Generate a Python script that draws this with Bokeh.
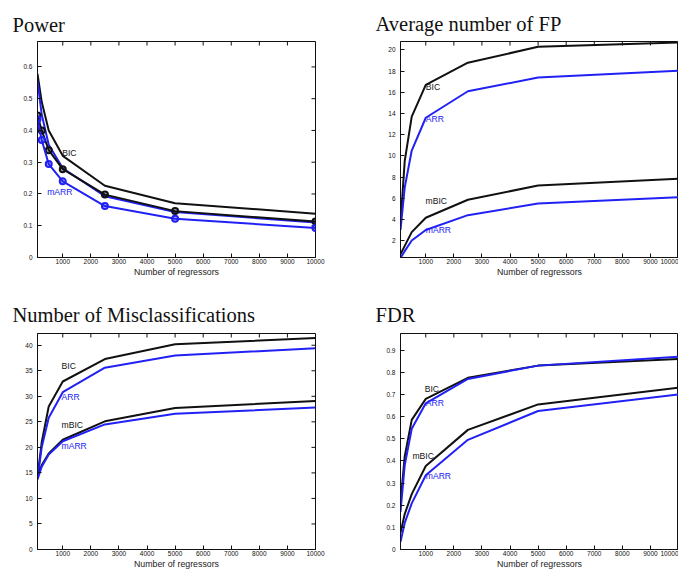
import math
from bokeh.plotting import figure
from bokeh.models import FixedTicker, Range1d
from bokeh.layouts import column, row
from bokeh.embed import file_html
from bokeh.resources import INLINE
from bokeh.core.properties import value

# ---------------- data ----------------
x_regressors = [100, 250, 500, 1000, 2500, 5000, 10000]
x_ticks = [1000, 2000, 3000, 4000, 5000, 6000, 7000, 8000, 9000, 10000]

power_bic = [0.578, 0.49, 0.40, 0.32, 0.226, 0.171, 0.138]
power_arr = [0.556, 0.45, 0.355, 0.281, 0.193, 0.143, 0.110]
power_mbic = [0.447, 0.40, 0.338, 0.278, 0.198, 0.146, 0.113]
power_marr = [0.435, 0.37, 0.294, 0.240, 0.162, 0.122, 0.093]
power_yticks = [0, 0.1, 0.2, 0.3, 0.4, 0.5, 0.6]

fp_bic = [3.6, 9.5, 13.7, 16.7, 18.8, 20.3, 20.7]
fp_arr = [3.0, 7.0, 10.5, 13.6, 16.1, 17.4, 18.05]
fp_mbic = [0.7, 1.5, 2.8, 4.15, 5.85, 7.2, 7.85]
fp_marr = [0.35, 1.0, 2.0, 3.0, 4.4, 5.5, 6.1]
fp_yticks = [2, 4, 6, 8, 10, 12, 14, 16, 18, 20]

mis_bic = [14.2, 21.0, 28.0, 32.9, 37.3, 40.2, 41.4]
mis_arr = [13.9, 20.0, 25.8, 30.8, 35.6, 38.0, 39.4]
mis_mbic = [14.2, 16.5, 18.8, 21.5, 25.1, 27.7, 29.1]
mis_marr = [13.7, 16.2, 18.6, 21.2, 24.5, 26.6, 27.8]
mis_yticks = [0, 5, 10, 15, 20, 25, 30, 35, 40]

fdr_bic = [0.21, 0.42, 0.585, 0.68, 0.775, 0.83, 0.86]
fdr_arr = [0.17, 0.38, 0.545, 0.66, 0.77, 0.83, 0.87]
fdr_mbic = [0.075, 0.16, 0.25, 0.377, 0.54, 0.655, 0.73]
fdr_marr = [0.035, 0.12, 0.208, 0.335, 0.495, 0.625, 0.70]
fdr_yticks = [0, 0.1, 0.2, 0.3, 0.4, 0.5, 0.6, 0.7, 0.8, 0.9]

# series labels: text, x, y, colour key
power_labels = [("BIC", 980, 0.328, "k"), ("mARR", 445, 0.207, "b")]
fp_labels = [("BIC", 1000, 16.5, "k"), ("ARR", 1000, 13.5, "b"),
             ("mBIC", 990, 5.7, "k"), ("mARR", 1000, 2.97, "b")]
mis_labels = [("BIC", 955, 35.9, "k"), ("ARR", 955, 29.8, "b"),
              ("mBIC", 955, 24.4, "k"), ("mARR", 955, 20.2, "b")]
fdr_labels = [("BIC", 960, 0.725, "k"), ("ARR", 1000, 0.662, "b"),
              ("mBIC", 525, 0.424, "k"), ("mARR", 1000, 0.33, "b")]

BLACK = "#111111"
BLUE = "#2121f5"
COL = {"k": BLACK, "b": BLUE}
SANS = "Liberation Sans"
SERIF = "Liberation Serif"
XMIN, XMAX = 100, 10000


def make(title, series, yrange, yticks, labels, w, h, borders, right_ticks, markers, title_standoff):
    bl, br, bt, bb = borders
    p = figure(width=w, height=h, output_backend="svg", toolbar_location=None,
               x_range=Range1d(XMIN, XMAX), y_range=Range1d(*yrange),
               min_border_left=bl, min_border_right=br,
               min_border_top=bt, min_border_bottom=bb)
    p.title.text = title
    p.title.text_font = SERIF
    p.title.text_font_size = "20.5px"
    p.title.text_font_style = "normal"
    p.title.text_color = "#111111"
    p.title.align = "left"
    p.title.offset = -25
    p.title.standoff = title_standoff
    p.grid.visible = False
    p.outline_line_color = BLACK
    p.outline_line_width = 1
    p.background_fill_color = "white"
    p.border_fill_color = "white"

    for ax in p.xaxis:
        ax.ticker = FixedTicker(ticks=x_ticks)
        ax.axis_label = "Number of regressors"
        ax.axis_label_text_font = SANS
        ax.axis_label_text_font_size = "8.8px"
        ax.axis_label_text_font_style = "normal"
        ax.axis_label_text_color = "#222222"
        ax.axis_label_standoff = 0
        ax.major_label_standoff = 1
    for ax in p.yaxis:
        ax.ticker = FixedTicker(ticks=yticks)
        ax.major_label_overrides = {t: ("%g" % t) for t in yticks}
        ax.major_label_standoff = 5
    for ax in list(p.xaxis) + list(p.yaxis):
        ax.major_tick_in = 4
        ax.major_tick_out = 0
        ax.minor_tick_line_color = None
        ax.major_label_text_font = SANS
        ax.major_label_text_font_size = "6.5px"
        ax.major_label_text_color = BLACK
        ax.axis_line_color = BLACK
        ax.major_tick_line_color = BLACK

    # inward ticks on the top edge (and right edge) of the box
    p.ray(x=x_ticks, y=[yrange[1]] * len(x_ticks), length=4, length_units="screen",
          angle=-math.pi / 2, line_color=BLACK, line_width=1)
    if right_ticks:
        p.ray(x=[XMAX] * len(yticks), y=yticks, length=4, length_units="screen",
              angle=math.pi, line_color=BLACK, line_width=1)

    for ys, c, mk in series:
        p.line(x_regressors, ys, line_color=c, line_width=2)
        if mk and markers:
            p.scatter(x_regressors, ys, marker="circle", size=6, line_color=c,
                      line_width=2, fill_color=c, fill_alpha=0.35)

    for txt, lx, ly, ck in labels:
        p.text(x=[lx], y=[ly], text=[txt], text_color=COL[ck],
               text_font=value(SANS), text_font_size="8.6px",
               text_align="left", text_baseline="middle")
    return p


p1 = make("Power",
          [(power_bic, BLACK, False), (power_arr, BLUE, False),
           (power_mbic, BLACK, True), (power_marr, BLUE, True)],
          (0, 0.68), power_yticks, power_labels, 340, 285, (37, 25, 39, 28), True, True, 12)
p2 = make("Average number of FP",
          [(fp_bic, BLACK, False), (fp_arr, BLUE, False),
           (fp_mbic, BLACK, False), (fp_marr, BLUE, False)],
          (0.4, 20.8), fp_yticks, fp_labels, 338, 285, (60, 0, 41, 27), False, False, 14)
p3 = make("Number of Misclassifications",
          [(mis_bic, BLACK, False), (mis_arr, BLUE, False),
           (mis_mbic, BLACK, False), (mis_marr, BLUE, False)],
          (0, 42.3), mis_yticks, mis_labels, 340, 286, (37, 25, 48, 19), True, False, 16)
p4 = make("FDR",
          [(fdr_bic, BLACK, False), (fdr_arr, BLUE, False),
           (fdr_mbic, BLACK, False), (fdr_marr, BLUE, False)],
          (0, 0.975), fdr_yticks, fdr_labels, 338, 286, (60, 0, 48, 19), False, False, 16)

layout = column(row(p1, p2), row(p3, p4))
open("out.html", "w").write(file_html(layout, INLINE))
